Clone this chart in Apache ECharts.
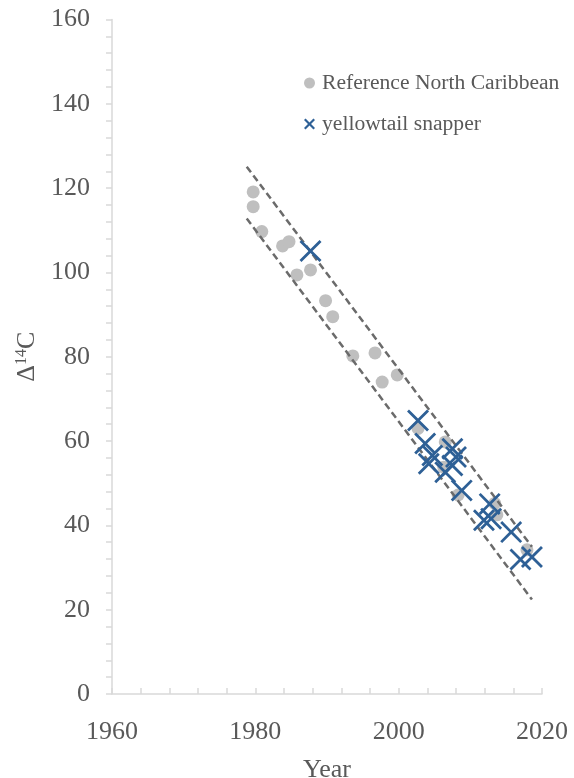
<!DOCTYPE html>
<html>
<head>
<meta charset="utf-8">
<script src="https://cdn.jsdelivr.net/npm/echarts@6/dist/echarts.min.js"></script>
<style>
html,body{margin:0;padding:0;background:#fff;}
#chart{width:574px;height:778px;}
</style>
</head>
<body>
<div id="chart"></div>
<script>
// ---- data ----
const xTicks = [1960, 1980, 2000, 2020];
const yTicks = [0, 20, 40, 60, 80, 100, 120, 140, 160];

const refName = 'Reference North Caribbean';
const refYears = [1979.7, 1979.7, 1980.9, 1983.8, 1984.7, 1985.8, 1987.7, 1989.8, 1990.8, 1993.6, 1996.7, 1997.7, 1999.8, 2002.7, 2006.5, 2006.3, 2008.3, 2013.4, 2013.7, 2017.9];
const refValues = [119.1, 115.6, 109.7, 106.3, 107.3, 99.4, 100.6, 93.3, 89.5, 80.2, 80.9, 74.0, 75.7, 63.0, 59.8, 53.8, 47.2, 45.2, 42.5, 34.2];

const snapName = 'yellowtail snapper';
const snapYears = [1987.7, 2002.7, 2003.7, 2004.7, 2004.2, 2006.5, 2007.5, 2008.0, 2007.5, 2008.8, 2012.7, 2011.9, 2012.9, 2015.7, 2017.0, 2018.6];
const snapValues = [105.1, 64.9, 59.4, 56.6, 54.6, 52.6, 58.2, 56.2, 54.2, 48.3, 45.1, 41.2, 41.6, 38.4, 31.9, 32.5];

const bandYears = [1978.8, 2018.6];
const upperBand = [125.1, 34.9];
const lowerBand = [112.8, 22.4];

// ---- build ----
const pair = (xs, ys) => xs.map((x, i) => [x, ys[i]]);
const crossPath = 'path://M0,9L9,0L50,41L91,0L100,9L59,50L100,91L91,100L50,59L9,100L0,91L41,50Z';
const crossIcon = 'path://M0,14L14,0L50,36L86,0L100,14L64,50L100,86L86,100L50,64L14,100L0,86L36,50Z';
const font = '"Liberation Serif", "Times New Roman", serif';
const grey = '#595959';

const chart = echarts.init(document.getElementById('chart'), null, {renderer: 'canvas'});
chart.setOption({
  animation: false,
  backgroundColor: '#ffffff',
  grid: {left: 112, right: 32, top: 19.5, bottom: 84, containLabel: false, outerBoundsMode: 'none'},
  legend: {
    orient: 'vertical',
    left: 299,
    top: 66,
    itemWidth: 11,
    itemHeight: 11,
    itemGap: 17,
    data: [{name: refName, icon: 'circle'}, {name: snapName, icon: crossIcon}],
    textStyle: {fontFamily: font, fontSize: 21.6, color: grey, lineHeight: 24, padding: [0, 0, 0, 2]}
  },
  xAxis: {
    type: 'value',
    min: xTicks[0],
    max: xTicks[xTicks.length - 1],
    interval: 20,
    name: 'Year',
    nameLocation: 'middle',
    nameGap: 63,
    nameTextStyle: {fontFamily: font, fontSize: 26, color: grey},
    axisLine: {show: true, lineStyle: {color: '#d9d9d9', width: 1.5}},
    axisTick: {show: true, inside: true, length: 6, lineStyle: {color: '#d9d9d9', width: 1.5}},
    minorTick: {show: true, splitNumber: 5, length: 6, lineStyle: {color: '#d9d9d9', width: 1.5}},
    axisLabel: {fontFamily: font, fontSize: 26, color: grey, margin: 25, formatter: v => String(v)},
    splitLine: {show: false}
  },
  yAxis: {
    type: 'value',
    min: yTicks[0],
    max: yTicks[yTicks.length - 1],
    interval: 20,
    name: '{d|Δ}{s|14}{d|C}',
    nameLocation: 'middle',
    nameGap: 54,
    nameRotate: 90,
    nameTextStyle: {
      fontFamily: font, fontSize: 26, color: grey,
      rich: {
        d: {fontFamily: font, fontSize: 26, color: grey},
        s: {fontFamily: font, fontSize: 16, color: grey, verticalAlign: 'top', padding: [0, 0, 10, 0]}
      }
    },
    axisLine: {show: true, lineStyle: {color: '#d9d9d9', width: 1.5}},
    axisTick: {show: true, inside: false, length: 6, lineStyle: {color: '#d9d9d9', width: 1.5}},
    minorTick: {show: true, splitNumber: 5, length: 6, lineStyle: {color: '#d9d9d9', width: 1.5}},
    axisLabel: {fontFamily: font, fontSize: 26, color: grey, margin: 22},
    splitLine: {show: false}
  },
  series: [
    {
      name: refName,
      type: 'scatter',
      symbol: 'circle',
      symbolSize: 13,
      itemStyle: {color: '#bfbfbf', opacity: 1},
      data: pair(refYears, refValues),
      z: 2
    },
    {
      name: snapName,
      type: 'scatter',
      symbol: crossPath,
      symbolSize: 22,
      itemStyle: {color: '#2e6096', opacity: 1},
      data: pair(snapYears, snapValues),
      z: 4
    },
    {
      name: 'upper',
      type: 'line',
      symbol: 'none',
      silent: true,
      lineStyle: {color: '#6b6b6b', width: 2.5, type: [7, 4]},
      data: pair(bandYears, upperBand),
      z: 3
    },
    {
      name: 'lower',
      type: 'line',
      symbol: 'none',
      silent: true,
      lineStyle: {color: '#6b6b6b', width: 2.5, type: [7, 4]},
      data: pair(bandYears, lowerBand),
      z: 3
    }
  ]
});
</script>
</body>
</html>
